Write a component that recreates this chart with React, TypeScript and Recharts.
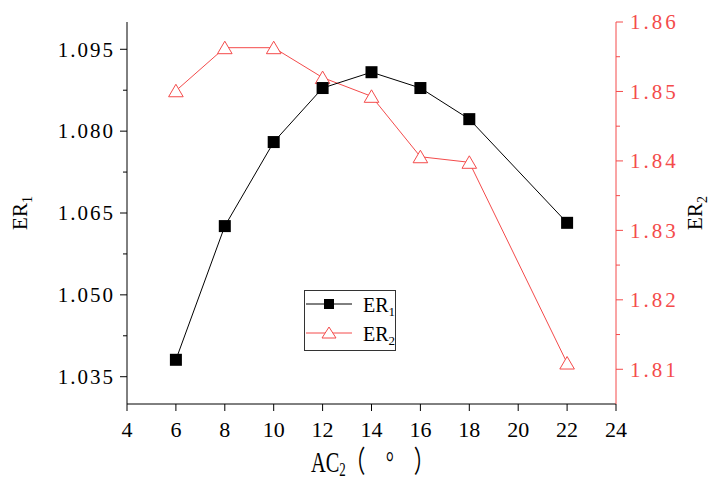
import React from 'react';
import { ComposedChart, Line, XAxis, YAxis, Legend } from 'recharts';

const xValues = [6, 8, 10, 12, 14, 16, 18, 22];
const er1Values = [1.0381, 1.0626, 1.078, 1.0879, 1.0908, 1.0879, 1.0822, 1.0632];
const er2Values = [1.8501, 1.8563, 1.8563, 1.852, 1.8493, 1.8406, 1.8398, 1.8109];

const xTicks = [4, 6, 8, 10, 12, 14, 16, 18, 20, 22, 24];
const leftMajorTicks = [1.035, 1.05, 1.065, 1.08, 1.095];
const leftMinorTicks = [1.0425, 1.0575, 1.0725, 1.0875];
const leftTickLabels = ['1.035', '1.050', '1.065', '1.080', '1.095'];
const rightMajorTicks = [1.81, 1.82, 1.83, 1.84, 1.85, 1.86];
const rightMinorTicks = [1.815, 1.825, 1.835, 1.845, 1.855];
const rightTickLabels = ['1.81', '1.82', '1.83', '1.84', '1.85', '1.86'];

const data = xValues.map((x, i) => ({ x, er1: er1Values[i], er2: er2Values[i] }));

const RED = '#f44b4b';
const FONT = 'Liberation Serif, Noto Sans CJK SC, serif';

const findIdx = (arr: number[], v: number) => arr.findIndex((a) => Math.abs(a - v) < 1e-7);

const LeftTick = (props: any) => {
  const { x, y, payload } = props;
  const idx = findIdx(leftMajorTicks, payload.value);
  if (idx < 0) {
    return <line x1={x} x2={x - 4} y1={y} y2={y} stroke="#000" strokeWidth={1} />;
  }
  return (
    <g>
      <line x1={x} x2={x - 7} y1={y} y2={y} stroke="#000" strokeWidth={1} />
      <text x={x - 12} y={y} dy="0.35em" textAnchor="end" fontSize={21} letterSpacing={2} fill="#000" style={{ fontFamily: FONT }}>
        {leftTickLabels[idx]}
      </text>
    </g>
  );
};

const RightTick = (props: any) => {
  const { x, y, payload } = props;
  const idx = findIdx(rightMajorTicks, payload.value);
  if (idx < 0) {
    return <line x1={x} x2={x + 4} y1={y} y2={y} stroke={RED} strokeWidth={1} />;
  }
  return (
    <g>
      <line x1={x} x2={x + 7} y1={y} y2={y} stroke={RED} strokeWidth={1} />
      <text x={x + 14} y={y} dy="0.35em" textAnchor="start" fontSize={21} letterSpacing={3} fill={RED} style={{ fontFamily: FONT }}>
        {rightTickLabels[idx]}
      </text>
    </g>
  );
};

const BottomTick = (props: any) => {
  const { x, y, payload } = props;
  return (
    <text x={x} y={y} dy="0.71em" textAnchor="middle" fontSize={22} fill="#000" style={{ fontFamily: FONT }}>
      {payload.value}
    </text>
  );
};

const TopTick = (props: any) => {
  const { x, y } = props;
  return <line x1={x} x2={x} y1={y} y2={y + 7} stroke="#000" strokeWidth={1} />;
};

const SquareDot = (props: any) => {
  const { cx, cy } = props;
  if (cx == null || cy == null) return null;
  return <rect x={cx - 6} y={cy - 6} width={12} height={12} fill="#000" />;
};

const TriangleDot = (props: any) => {
  const { cx, cy } = props;
  if (cx == null || cy == null) return null;
  return (
    <polygon
      points={`${cx},${cy - 6.5} ${cx - 7.3},${cy + 6} ${cx + 7.3},${cy + 6}`}
      fill="#fff"
      stroke={RED}
      strokeWidth={1}
    />
  );
};

const LeftTitle = (props: any) => {
  const vb = props.viewBox;
  const x = vb.x + 27;
  const y = vb.y + vb.height / 2;
  return (
    <text x={x} y={y} transform={`rotate(-90 ${x} ${y})`} textAnchor="middle" fontSize={21} fill="#000" style={{ fontFamily: FONT }}>
      ER<tspan fontSize={14} dy={5}>1</tspan>
    </text>
  );
};

const RightTitle = (props: any) => {
  const vb = props.viewBox;
  const x = vb.x + 86;
  const y = vb.y + vb.height / 2;
  return (
    <text x={x} y={y} transform={`rotate(-90 ${x} ${y})`} textAnchor="middle" fontSize={21} fill="#000" style={{ fontFamily: FONT }}>
      ER<tspan fontSize={14} dy={5}>2</tspan>
    </text>
  );
};

const BottomTitle = (props: any) => {
  const vb = props.viewBox;
  const x0 = vb.x + 184;
  const y0 = vb.y + 68;
  const s = 0.68;
  return (
    <text transform={`translate(${x0} ${y0}) scale(${s} 1)`} x={0} y={0} fontSize={30} fill="#000" style={{ fontFamily: FONT }}>
      AC<tspan fontSize={19} dy={4}>2</tspan>
      <tspan x={50} dy={-4}>（</tspan>
      <tspan x={110}>°</tspan>
      <tspan x={151}>）</tspan>
    </text>
  );
};

const LegendContent = (props: any) => {
  const payload = (props.payload || []).filter((p: any) => p.type !== 'none');
  return (
    <svg width={92} height={61} style={{ display: 'block' }}>
      <rect x={0.5} y={0.5} width={91} height={60} fill="#fff" stroke="#333" strokeWidth={1} />
      {payload.map((p: any, i: number) => {
        const cy = 14 + i * 29;
        const name: string = String(p.value);
        const isFirst = i === 0;
        const color = isFirst ? '#000' : RED;
        return (
          <g key={name}>
            <line x1={2} x2={48} y1={cy} y2={cy} stroke={color} strokeWidth={1} />
            {isFirst ? (
              <rect x={20} y={cy - 5} width={10} height={10} fill="#000" />
            ) : (
              <polygon points={`25,${cy - 6} 18,${cy + 5} 32,${cy + 5}`} fill="#fff" stroke={RED} strokeWidth={1} />
            )}
            <text x={59} y={cy + 8} fontSize={20} fill="#000" style={{ fontFamily: FONT }}>
              {name.slice(0, 2)}
              <tspan fontSize={13} dy={4}>{name.slice(2)}</tspan>
            </text>
          </g>
        );
      })}
    </svg>
  );
};

export default function App() {
  return (
    <div style={{ position: 'absolute', left: 0, top: 0, width: 714, height: 480, background: '#fff' }}>
      <ComposedChart width={714} height={480} data={data} margin={{ top: 22, right: 0, bottom: 0, left: 0 }}>
        <XAxis
          xAxisId="bottom"
          dataKey="x"
          type="number"
          domain={[4, 24]}
          ticks={xTicks}
          interval={0}
          height={76}
          axisLine={{ stroke: '#000', strokeWidth: 1 }}
          tickLine={{ stroke: '#000', strokeWidth: 1 }}
          tickSize={7}
          tickMargin={10}
          tick={<BottomTick />}
          label={<BottomTitle />}
        />
        <XAxis
          xAxisId="top"
          orientation="top"
          dataKey="x"
          type="number"
          domain={[4, 24]}
          ticks={xTicks}
          interval={0}
          height={0}
          axisLine={{ stroke: '#000', strokeWidth: 1 }}
          tickLine={false}
          tickSize={0}
          tickMargin={0}
          tick={<TopTick />}
        />
        <YAxis
          yAxisId="left"
          orientation="left"
          type="number"
          domain={[1.03, 1.1]}
          ticks={[...leftMajorTicks, ...leftMinorTicks].sort((a, b) => a - b)}
          interval={0}
          width={127}
          axisLine={{ stroke: '#000', strokeWidth: 1 }}
          tickLine={false}
          tickSize={0}
          tickMargin={0}
          tick={<LeftTick />}
          label={<LeftTitle />}
        />
        <YAxis
          yAxisId="right"
          orientation="right"
          type="number"
          domain={[1.805, 1.86]}
          ticks={[...rightMajorTicks, ...rightMinorTicks].sort((a, b) => a - b)}
          interval={0}
          width={98}
          axisLine={{ stroke: RED, strokeWidth: 1 }}
          tickLine={false}
          tickSize={0}
          tickMargin={0}
          tick={<RightTick />}
          label={<RightTitle />}
        />
        <Line
          xAxisId="top"
          yAxisId="left"
          dataKey="er1"
          stroke="none"
          dot={false}
          activeDot={false}
          legendType="none"
          isAnimationActive={false}
        />
        <Line
          xAxisId="bottom"
          yAxisId="right"
          dataKey="er2"
          name="ER2"
          stroke={RED}
          strokeWidth={1}
          dot={<TriangleDot />}
          activeDot={false}
          isAnimationActive={false}
        />
        <Line
          xAxisId="bottom"
          yAxisId="left"
          dataKey="er1"
          name="ER1"
          stroke="#000"
          strokeWidth={1}
          dot={<SquareDot />}
          activeDot={false}
          isAnimationActive={false}
        />
        <Legend
          layout="vertical"
          align="center"
          verticalAlign="middle"
          content={<LegendContent />}
          wrapperStyle={{ left: 304, top: 290, width: 92, height: 61 }}
        />
      </ComposedChart>
    </div>
  );
}
